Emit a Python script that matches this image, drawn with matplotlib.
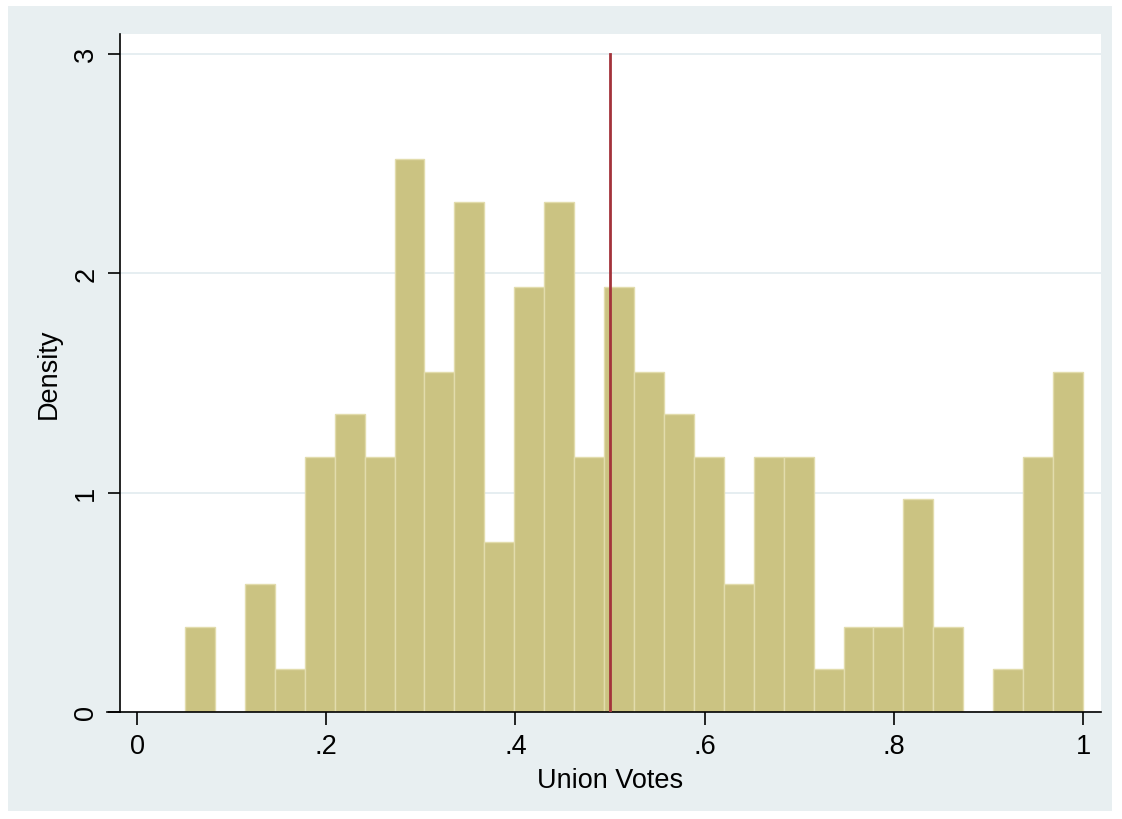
import numpy as np
import matplotlib.pyplot as plt
from matplotlib.patches import Rectangle

# Datos del histograma (conteos por intervalo, 30 intervalos)
bin_min = 0.0507
bin_max = 1.0
n_bins = 30
counts = [2, 0, 3, 1, 6, 7, 6, 13, 8, 12, 4, 10, 12, 6, 10,
          8, 7, 6, 3, 6, 6, 1, 2, 2, 5, 2, 0, 1, 6, 8]
cutoff = 0.5
x_ticks = [0, 0.2, 0.4, 0.6, 0.8, 1.0]
x_tick_labels = ['0', '.2', '.4', '.6', '.8', '1']
y_ticks = [0, 1, 2, 3]
y_tick_labels = ['0', '1', '2', '3']

edges = np.linspace(bin_min, bin_max, n_bins + 1)
centers = (edges[:-1] + edges[1:]) / 2

plt.rcParams['font.family'] = ['Liberation Sans', 'DejaVu Sans']

fig = plt.figure(figsize=(11.22, 8.2), dpi=100)
fig.patch.set_facecolor('white')
# fondo gris azulado estilo Stata
fig.patches.append(Rectangle((8 / 1122, 8 / 820), 1104 / 1122, 805 / 820,
                             transform=fig.transFigure, facecolor='#e8eff1',
                             edgecolor='none', zorder=-10))

ax = fig.add_axes([120 / 1122, 1 - 713 / 820, 981 / 1122, 678 / 820])
ax.set_facecolor('white')

ax.hist(centers, bins=edges, weights=counts, density=True,
        color='#cbc382', edgecolor='#e2dcac', linewidth=1.0, zorder=2)
ax.axvline(cutoff, ymin=0, ymax=3 / 3.09, color='#a3333b', lw=2.0, zorder=3)

ax.set_xlim(-0.018, 1.019)
ax.set_ylim(0, 3.09)
ax.yaxis.grid(True, color='#e4edf0', lw=1.3, zorder=0)
ax.set_axisbelow(True)

for s in ['top', 'right']:
    ax.spines[s].set_visible(False)
ax.spines['left'].set_bounds(0, 3.09)
ax.spines['left'].set_linewidth(1.2)
ax.spines['bottom'].set_linewidth(1.2)
# el eje x se extiende un poco a la izquierda del eje y
ax.plot([-0.013, 0], [0, 0], transform=ax.transAxes, color='black',
        lw=1.2, clip_on=False)

ax.set_xticks(x_ticks)
ax.set_xticklabels(x_tick_labels)
ax.set_yticks(y_ticks)
ax.set_yticklabels(y_tick_labels, rotation=90, va='center')
ax.tick_params(axis='both', direction='out', length=9, width=1.2,
               labelsize=19.5, pad=6)

ax.set_xlabel('Union Votes', fontsize=19.5, labelpad=6)
ax.set_ylabel('Density', fontsize=19.5, labelpad=8)

fig.savefig('out.png', dpi=100)
